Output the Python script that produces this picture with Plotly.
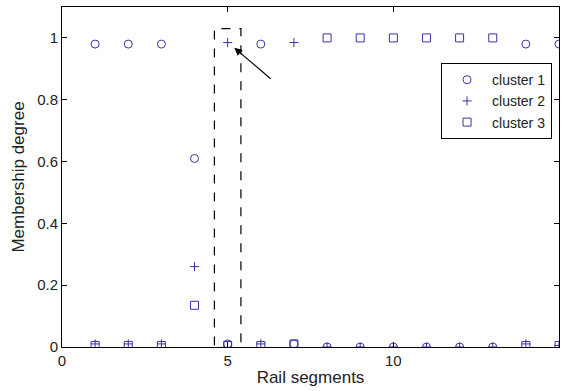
import plotly.graph_objects as go

segments = list(range(1, 16))
cluster1 = [0.98, 0.98, 0.98, 0.61, 0.01, 0.98, 0.01, 0.0, 0.0, 0.0, 0.0, 0.0, 0.0, 0.98, 0.98]
cluster2 = [0.01, 0.01, 0.01, 0.26, 0.985, 0.01, 0.985, 0.0, 0.0, 0.0, 0.0, 0.0, 0.0, 0.01, 0.005]
cluster3 = [0.005, 0.005, 0.005, 0.135, 0.005, 0.005, 0.01, 1.0, 1.0, 1.0, 1.0, 1.0, 1.0, 0.005, 0.005]

x_ticks = [0, 5, 10, 15]
y_ticks = [0, 0.2, 0.4, 0.6, 0.8, 1]
y_tick_labels = ["0", "0.2", "0.4", "0.6", "0.8", "1"]

FONT = "Arial, Liberation Sans"
col = "#3535a8"
fig = go.Figure()
fig.add_trace(go.Scatter(x=segments, y=cluster1, mode="markers", name="cluster 1",
                         marker=dict(symbol="circle-open", size=8, color=col, line=dict(width=1))))
fig.add_trace(go.Scatter(x=segments, y=cluster2, mode="markers", name="cluster 2",
                         marker=dict(symbol="cross-thin-open", size=6.5, color=col, line=dict(width=1, color=col))))
fig.add_trace(go.Scatter(x=segments, y=cluster3, mode="markers", name="cluster 3",
                         marker=dict(symbol="square-open", size=8, color=col, line=dict(width=1))))

# dashed highlight box around segment 5
fig.add_shape(type="rect", x0=4.6, x1=5.4, y0=-0.015, y1=1.03, xref="x", yref="y",
              line=dict(color="black", width=1.2, dash="dash"), layer="above")
fig.add_annotation(x=5.2, y=0.968, ax=6.34, ay=0.864, xref="x", yref="y", axref="x", ayref="y",
                   text="", showarrow=True, arrowhead=2, arrowsize=1.3, arrowwidth=1.2, arrowcolor="black")

axis_common = dict(showline=True, linecolor="black", linewidth=1, mirror="ticks", ticks="inside",
                   ticklen=5, tickcolor="black", showgrid=False, zeroline=False,
                   tickfont=dict(family=FONT, size=15, color="#222"))
fig.update_xaxes(range=[0, 15], tickvals=x_ticks, title=dict(text="Rail segments", standoff=3,
                 font=dict(family=FONT, size=17, color="#222")), **axis_common)
fig.update_yaxes(range=[0, 1.1], tickvals=y_ticks, ticktext=y_tick_labels,
                 title=dict(text="Membership degree", standoff=8,
                            font=dict(family=FONT, size=17, color="#222")), **axis_common)

fig.update_layout(
    width=565, height=391, margin=dict(l=62, r=6, t=7, b=44),
    plot_bgcolor="white", paper_bgcolor="white",
    legend=dict(x=0.986, y=0.835, xanchor="right", yanchor="top", bgcolor="white",
                bordercolor="black", borderwidth=1,
                font=dict(family=FONT, size=14, color="#222"),
                itemwidth=40, tracegroupgap=0),
    showlegend=True,
)
fig.write_html("out.html")
